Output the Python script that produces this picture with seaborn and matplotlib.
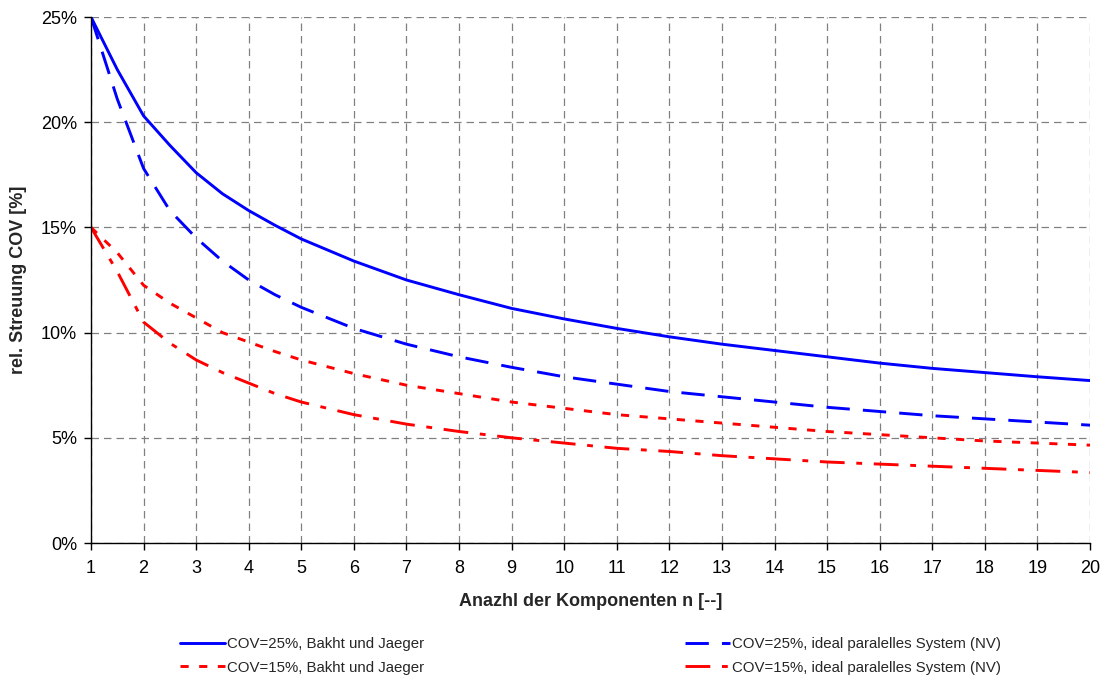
import numpy as np
import pandas as pd
import matplotlib
matplotlib.use("Agg")
import matplotlib.pyplot as plt
import seaborn as sns
from matplotlib.ticker import FuncFormatter

# Number of components (finer steps where the curves bend strongly)
n_values = [1, 1.5, 2, 2.5, 3, 3.5, 4, 4.5, 5, 6, 7, 8, 9, 10,
            11, 12, 13, 14, 15, 16, 17, 18, 19, 20]

# Coefficient of variation of the system [%]
cov25_bakht = [25.0, 22.5, 20.3, 18.9, 17.6, 16.6, 15.8, 15.1, 14.45, 13.4, 12.5, 11.8,
               11.15, 10.65, 10.2, 9.8, 9.45, 9.15, 8.85, 8.55, 8.3, 8.1, 7.9, 7.72]
cov25_ideal = [25.0, 21.1, 17.8, 15.8, 14.5, 13.4, 12.5, 11.8, 11.2, 10.2, 9.45, 8.85,
               8.35, 7.9, 7.55, 7.2, 6.95, 6.7, 6.45, 6.25, 6.05, 5.9, 5.75, 5.6]
cov15_bakht = [15.0, 13.8, 12.25, 11.4, 10.7, 10.0, 9.55, 9.1, 8.7, 8.05, 7.5, 7.1,
               6.7, 6.4, 6.1, 5.9, 5.7, 5.5, 5.3, 5.15, 5.0, 4.85, 4.75, 4.65]
cov15_ideal = [15.0, 12.9, 10.5, 9.5, 8.7, 8.1, 7.6, 7.1, 6.7, 6.1, 5.65, 5.3,
               5.0, 4.75, 4.5, 4.35, 4.15, 4.0, 3.85, 3.75, 3.65, 3.55, 3.45, 3.35]

series_names = [
    "COV=25%, Bakht und Jaeger",
    "COV=15%, Bakht und Jaeger",
    "COV=25%, ideal paralelles System (NV)",
    "COV=15%, ideal paralelles System (NV)",
]
series_values = [cov25_bakht, cov15_bakht, cov25_ideal, cov15_ideal]

df = pd.concat(
    [pd.DataFrame({"n": n_values, "cov": vals, "Reihe": name})
     for name, vals in zip(series_names, series_values)],
    ignore_index=True,
)

sns.set_theme(style="white")
plt.rcParams["font.family"] = ["Liberation Sans", "DejaVu Sans"]

fig = plt.figure(figsize=(11.11, 6.76), dpi=100)
ax = fig.add_axes([91 / 1111, 1 - 543 / 676, (1090 - 91) / 1111, (543 - 17) / 676])

palette = {
    series_names[0]: "#0000ff",
    series_names[1]: "#ff0000",
    series_names[2]: "#0000ff",
    series_names[3]: "#ff0000",
}
dashes = {
    series_names[0]: "",
    series_names[1]: (2.8, 3.6),
    series_names[2]: (8.0, 4.5),
    series_names[3]: (8.5, 4.0, 2.0, 4.0),
}

sns.lineplot(data=df, x="n", y="cov", hue="Reihe", style="Reihe",
             hue_order=series_names, style_order=series_names,
             palette=palette, dashes=dashes, linewidth=2.1, ax=ax,
             legend=True)

ax.set_xlim(1, 20)
ax.set_ylim(0, 25)
ax.set_xticks(range(1, 21))
ax.set_yticks([0, 5, 10, 15, 20, 25])
ax.yaxis.set_major_formatter(FuncFormatter(lambda v, _: f"{v:.0f}%"))

ax.grid(True, color="#808080", linestyle=(0, (6, 4)), linewidth=0.9)
ax.set_axisbelow(True)
for side in ("top", "right"):
    ax.spines[side].set_visible(False)
for side in ("left", "bottom"):
    ax.spines[side].set_color("black")
    ax.spines[side].set_linewidth(1.0)

ax.tick_params(axis="both", which="major", direction="out", length=5,
               width=1, color="black", labelsize=13, labelcolor="black",
               bottom=True, left=True, pad=5)
ax.tick_params(axis="x", pad=7)

ax.set_xlabel("Anazhl der Komponenten n [--]", fontsize=13, fontweight="bold",
              labelpad=12)
ax.set_ylabel("rel. Streuung COV [%]", fontsize=13, fontweight="bold",
              labelpad=10)

handles, labels = ax.get_legend_handles_labels()
ax.get_legend().remove()
fig.legend(handles, labels, loc="center", bbox_to_anchor=(0.5315, 0.0296),
           ncol=2, frameon=False, fontsize=10.8, handlelength=3.0,
           handletextpad=0.15, columnspacing=17.4, labelspacing=0.62,
           borderpad=0.0)

fig.savefig("out.png", dpi=100, facecolor="white")
